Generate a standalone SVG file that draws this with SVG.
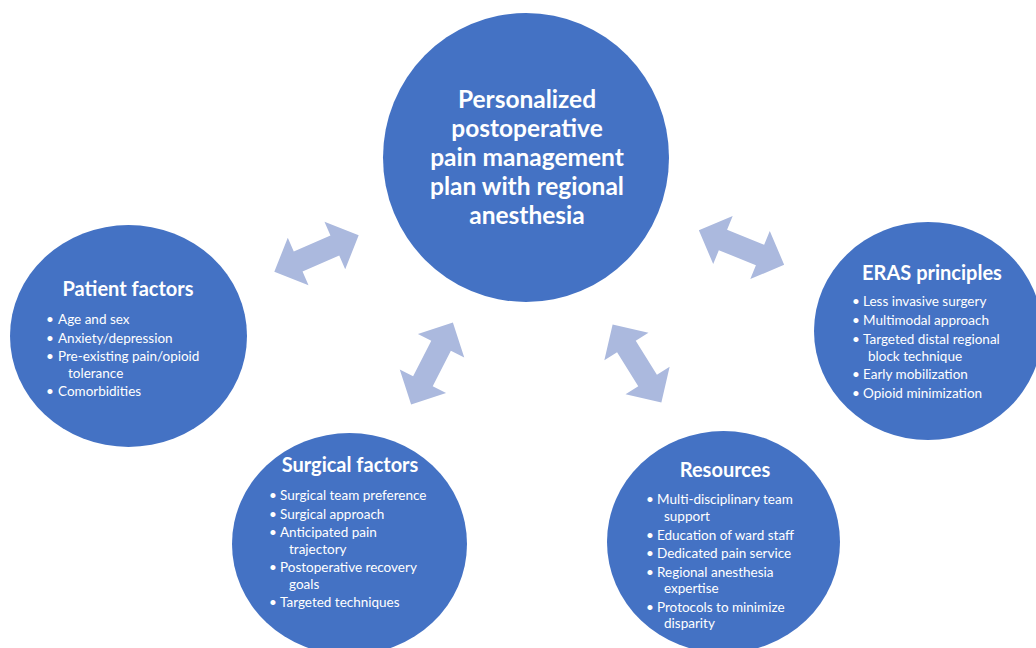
<svg xmlns="http://www.w3.org/2000/svg" width="1036" height="648" viewBox="0 0 1036 648">
<style>
.c{fill:#4472c4}
.ar{fill:#abb9de}
.t{font-family:Lato,"Liberation Sans",sans-serif;fill:#fff}
.main{font-size:24.5px;font-weight:bold;text-anchor:middle}
.h{font-size:20px;font-weight:bold;text-anchor:middle}
.b{font-size:13.5px}
</style>
<defs>
<polygon id="dbl" points="-46,0 -20,-26 -20,-11 20,-11 20,-26 46,0 20,26 20,11 -20,11 -20,26"/>
</defs>
<rect width="1036" height="648" fill="#fff"/>
<g id="connectors">
<use href="#dbl" class="ar" transform="translate(316.5,253.5) rotate(-23.5)"/>
<use href="#dbl" class="ar" transform="translate(741.5,247.5) rotate(22)"/>
<use href="#dbl" class="ar" transform="translate(432,363.5) rotate(-63)"/>
<use href="#dbl" class="ar" transform="translate(637,363.5) rotate(58)"/>
</g>
<g id="center">
<ellipse class="c" cx="526" cy="157.5" rx="143" ry="144.5"/>
<text class="t main" x="527" y="108">Personalized</text>
<text class="t main" x="527" y="137">postoperative</text>
<text class="t main" x="527" y="166">pain management</text>
<text class="t main" x="527" y="195">plan with regional</text>
<text class="t main" x="527" y="224">anesthesia</text>
</g>
<g id="patient">
<ellipse class="c" cx="128.5" cy="336" rx="118.5" ry="111"/>
<text class="t h" x="128" y="296">Patient factors</text>
<g class="t b">
<text x="46" y="324">•</text><text x="58" y="324">Age and sex</text>
<text x="46" y="343">•</text><text x="58" y="343">Anxiety/depression</text>
<text x="46" y="361">•</text><text x="58" y="361">Pre-existing pain/opioid</text>
<text x="68" y="378">tolerance</text>
<text x="46" y="396">•</text><text x="58" y="396">Comorbidities</text>
</g>
</g>
<g id="eras">
<ellipse class="c" cx="928" cy="331" rx="114" ry="109"/>
<text class="t h" x="932" y="280">ERAS principles</text>
<g class="t b">
<text x="852" y="306">•</text><text x="863" y="306">Less invasive surgery</text>
<text x="852" y="325">•</text><text x="863" y="325">Multimodal approach</text>
<text x="852" y="344">•</text><text x="863" y="344">Targeted distal regional</text>
<text x="868" y="361">block technique</text>
<text x="852" y="379">•</text><text x="863" y="379">Early mobilization</text>
<text x="852" y="398">•</text><text x="863" y="398">Opioid minimization</text>
</g>
</g>
<g id="surgical">
<ellipse class="c" cx="349.5" cy="544" rx="117.5" ry="111"/>
<text class="t h" x="350" y="472">Surgical factors</text>
<g class="t b">
<text x="269" y="500">•</text><text x="280" y="500">Surgical team preference</text>
<text x="269" y="519">•</text><text x="280" y="519">Surgical approach</text>
<text x="269" y="537">•</text><text x="280" y="537">Anticipated pain</text>
<text x="289" y="554">trajectory</text>
<text x="269" y="572">•</text><text x="280" y="572">Postoperative recovery</text>
<text x="289" y="589">goals</text>
<text x="269" y="607">•</text><text x="280" y="607">Targeted techniques</text>
</g>
</g>
<g id="resources">
<ellipse class="c" cx="723.5" cy="542" rx="116.5" ry="111"/>
<text class="t h" x="725" y="477">Resources</text>
<g class="t b">
<text x="646" y="504">•</text><text x="657" y="504">Multi-disciplinary team</text>
<text x="664" y="521">support</text>
<text x="646" y="540">•</text><text x="657" y="540">Education of ward staff</text>
<text x="646" y="558">•</text><text x="657" y="558">Dedicated pain service</text>
<text x="646" y="577">•</text><text x="657" y="577">Regional anesthesia</text>
<text x="664" y="593">expertise</text>
<text x="646" y="612">•</text><text x="657" y="612">Protocols to minimize</text>
<text x="664" y="628">disparity</text>
</g>
</g>
</svg>
